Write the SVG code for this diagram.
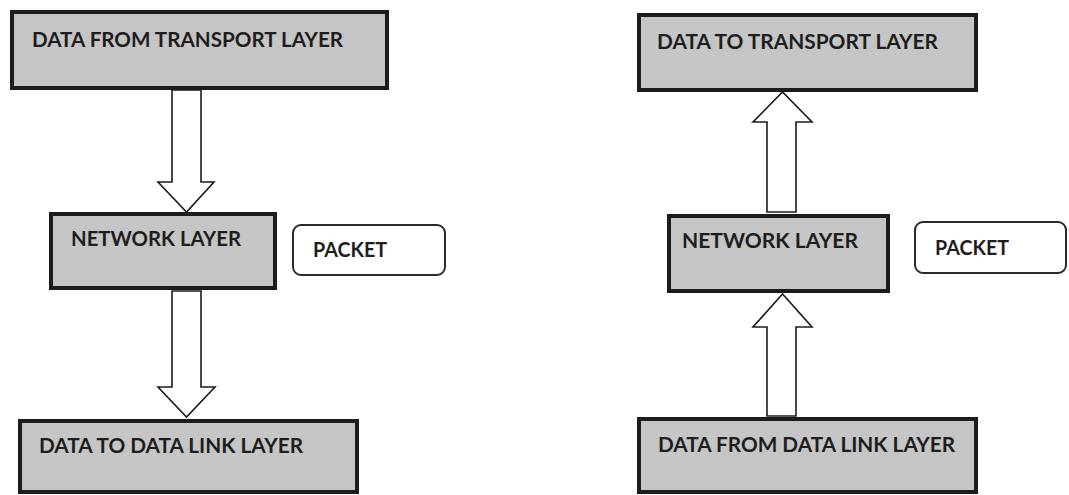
<svg xmlns="http://www.w3.org/2000/svg" width="1069" height="495" viewBox="0 0 1069 495">
<style>
.layer{fill:#c5c5c5;stroke:#1c1c1c;stroke-width:4}
.pkt{fill:#ffffff;stroke:#2a2a2a;stroke-width:2}
.lbl{font-family:Lato,"Open Sans","Liberation Sans",sans-serif;font-size:21px;fill:#1e1e1e;font-weight:700}
.arr{fill:#ffffff;stroke:#1c1c1c;stroke-width:1.6;stroke-linejoin:miter}
</style>
<rect width="1069" height="495" fill="#ffffff"/>
<g id="connectors">
<path class="arr" d="M172,90 L201,90 L201,182 L214,182 L186.5,212 L158,182 L172,182 Z"/>
<path class="arr" d="M172,291 L201,291 L201,387 L215,387 L186.5,417 L158,387 L172,387 Z"/>
<path class="arr" d="M767,212 L796,212 L796,122 L812,122 L782.5,92 L753,122 L767,122 Z"/>
<path class="arr" d="M767,416 L796,416 L796,327 L812,327 L782.5,294 L753,327 L767,327 Z"/>
</g>
<g id="left-transport">
<rect class="layer" x="12" y="12" width="375" height="76"/>
<text class="lbl" x="32" y="47" textLength="311" lengthAdjust="spacingAndGlyphs">DATA FROM TRANSPORT LAYER</text>
</g>
<g id="left-network">
<rect class="layer" x="51" y="214" width="224" height="74"/>
<text class="lbl" x="71" y="246" textLength="170" lengthAdjust="spacingAndGlyphs">NETWORK LAYER</text>
</g>
<g id="left-packet">
<rect class="pkt" x="293" y="225" width="152" height="50" rx="8"/>
<text class="lbl" x="313" y="257" textLength="74" lengthAdjust="spacingAndGlyphs">PACKET</text>
</g>
<g id="left-datalink">
<rect class="layer" x="20" y="421" width="337" height="71"/>
<text class="lbl" x="39" y="453" textLength="264" lengthAdjust="spacingAndGlyphs">DATA TO DATA LINK LAYER</text>
</g>
<g id="right-transport">
<rect class="layer" x="639" y="15" width="337" height="75"/>
<text class="lbl" x="657" y="49" textLength="281" lengthAdjust="spacingAndGlyphs">DATA TO TRANSPORT LAYER</text>
</g>
<g id="right-network">
<rect class="layer" x="669" y="216" width="219" height="75"/>
<text class="lbl" x="682" y="248" textLength="176" lengthAdjust="spacingAndGlyphs">NETWORK LAYER</text>
</g>
<g id="right-packet">
<rect class="pkt" x="915" y="222" width="151" height="51" rx="8"/>
<text class="lbl" x="935" y="255" textLength="74" lengthAdjust="spacingAndGlyphs">PACKET</text>
</g>
<g id="right-datalink">
<rect class="layer" x="639" y="419" width="337" height="73"/>
<text class="lbl" x="658" y="452" textLength="297" lengthAdjust="spacingAndGlyphs">DATA FROM DATA LINK LAYER</text>
</g>
</svg>
